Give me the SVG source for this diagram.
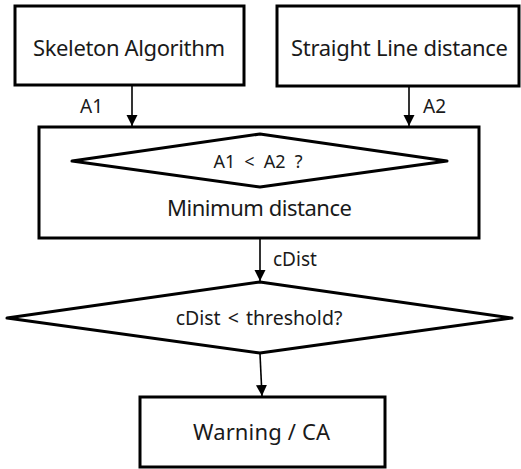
<svg xmlns="http://www.w3.org/2000/svg" width="521" height="469" viewBox="0 0 521 469">
<style>
.box{fill:#fff;stroke:#000;stroke-width:3}
.dia{fill:#fff;stroke:#000;stroke-width:3;stroke-linejoin:round}
.t{font-family:"Noto Sans","Open Sans","DejaVu Sans",sans-serif;fill:#1a1a1a}
.big{font-size:22px;text-anchor:middle}
.mid{font-size:19.5px;text-anchor:middle;word-spacing:2px}
.sm{font-size:19px}
.con{stroke:#000;stroke-width:1.6;fill:none;marker-end:url(#ah)}
</style>
<defs>
<marker id="ah" markerUnits="userSpaceOnUse" markerWidth="12" markerHeight="12" viewBox="0 0 12 12" refX="11" refY="6" orient="auto">
<path d="M0,0.5 L11,6 L0,11.5 Z" fill="#000"/>
</marker>
</defs>
<rect width="521" height="469" fill="#fff"/>
<g id="skeleton">
<rect class="box" x="15" y="6" width="229" height="79"/>
<text class="t big" x="129" y="56" textLength="192" lengthAdjust="spacing">Skeleton Algorithm</text>
</g>
<g id="straight">
<rect class="box" x="277" y="6" width="242" height="80"/>
<text class="t big" x="399.5" y="56" textLength="217" lengthAdjust="spacing">Straight Line distance</text>
</g>
<g id="minimum">
<rect class="box" x="39" y="127" width="440" height="111"/>
<polygon class="dia" points="72,161 260,134 447,161 260,187"/>
<text class="t" x="258" y="168" text-anchor="middle" font-size="18" word-spacing="4.5">A1 &lt; A2 ?</text>
<text class="t big" x="259.5" y="216" textLength="185" lengthAdjust="spacing">Minimum distance</text>
</g>
<g id="threshold">
<polygon class="dia" points="7,318 260,282 512,318 260,353"/>
<text class="t mid" x="259" y="325">cDist &lt; threshold?</text>
</g>
<g id="warning">
<rect class="box" x="140" y="397" width="245" height="70"/>
<text class="t big" x="261.5" y="440" textLength="137" lengthAdjust="spacing">Warning / CA</text>
</g>
<g id="connectors">
<line class="con" x1="132" y1="86" x2="132" y2="126"/>
<line class="con" x1="409" y1="87" x2="409" y2="126"/>
<line class="con" x1="260" y1="239" x2="260" y2="281"/>
<line class="con" x1="260" y1="354" x2="262" y2="396"/>
<text class="t sm" x="80" y="113">A1</text>
<text class="t sm" x="423" y="113">A2</text>
<text class="t sm" x="273" y="266">cDist</text>
</g>
</svg>
